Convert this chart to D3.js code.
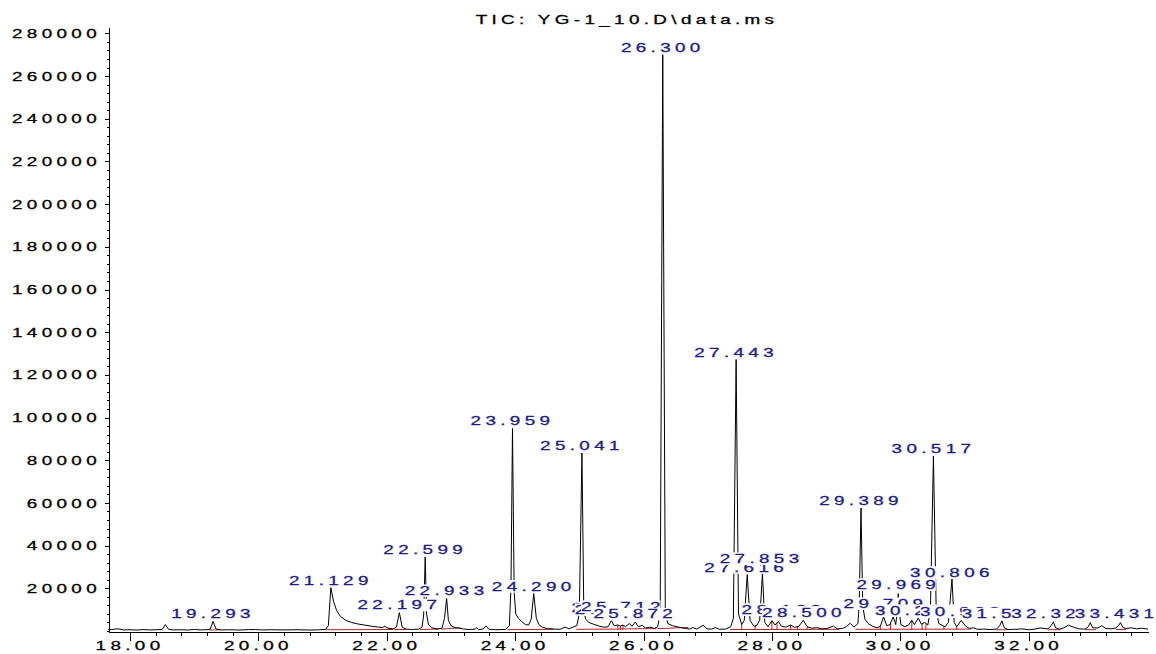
<!DOCTYPE html>
<html>
<head>
<meta charset="utf-8">
<script src="https://cdn.jsdelivr.net/npm/d3@7"></script>
<style>
  body { margin: 0; background: #fff; }
  text { font-family: "Liberation Sans", Arial, sans-serif; font-size: 13px; letter-spacing: 3px; }
</style>
</head>
<body>
<svg id="chart" width="1156" height="654"></svg>
<script>
// chromatogram trace: [retention time (min), abundance]
var trace = [
  [17.66, 700], [17.72, 600], [17.78, 1000], [17.84, 900], [17.90, 500], [18.00, 600], [18.10, 450],
  [18.20, 650], [18.30, 500], [18.42, 600], [18.50, 700], [18.55, 3000], [18.60, 800], [18.68, 500],
  [18.80, 600], [18.90, 450], [19.00, 700], [19.10, 550], [19.20, 600], [19.25, 900], [19.293, 4500],
  [19.34, 900], [19.42, 500], [19.55, 600], [19.70, 450], [19.85, 650], [19.95, 700], [20.05, 500],
  [20.20, 600], [20.40, 500], [20.60, 600], [20.80, 450], [20.95, 550], [21.05, 800], [21.09, 2500],
  [21.129, 20300], [21.17, 14000], [21.22, 9500], [21.28, 6800], [21.36, 5000], [21.45, 4000],
  [21.55, 3300], [21.65, 2800], [21.75, 2300], [21.85, 1900], [21.93, 1600], [21.97, 2200],
  [22.02, 1300], [22.10, 1000], [22.15, 1800], [22.197, 8600], [22.24, 1800], [22.30, 900],
  [22.40, 700], [22.50, 900], [22.55, 1800], [22.575, 7500], [22.599, 34700], [22.62, 8000],
  [22.65, 3000], [22.70, 1500], [22.78, 1000], [22.86, 1300], [22.90, 6000], [22.933, 15200],
  [22.96, 5000], [23.00, 2500], [23.06, 1600], [23.12, 1400], [23.20, 900], [23.30, 700],
  [23.38, 900], [23.40, 1600], [23.43, 700], [23.50, 900], [23.545, 2400], [23.59, 800],
  [23.70, 600], [23.85, 700], [23.91, 2500], [23.935, 20000], [23.959, 94900], [23.985, 18000],
  [24.01, 8000], [24.05, 6000], [24.10, 4500], [24.16, 3000], [24.21, 2800], [24.25, 5500],
  [24.290, 17500], [24.33, 6000], [24.37, 3000], [24.42, 1800], [24.50, 1100], [24.60, 900],
  [24.70, 800], [24.78, 1800], [24.84, 1000], [24.90, 1800], [24.96, 2500], [25.00, 8000],
  [25.041, 83400], [25.07, 9000], [25.10, 5500], [25.15, 4000], [25.22, 3200], [25.30, 2400],
  [25.38, 1800], [25.45, 2000], [25.50, 5000], [25.54, 2500], [25.60, 2800], [25.64, 2300],
  [25.68, 2800], [25.72, 2000], [25.78, 3500], [25.82, 2200], [25.872, 4200], [25.92, 2000],
  [25.98, 2700], [26.03, 1400], [26.10, 1800], [26.17, 1200], [26.22, 2000], [26.26, 8000],
  [26.300, 270000], [26.34, 8000], [26.38, 3500], [26.45, 2500], [26.55, 1800], [26.65, 1200],
  [26.72, 900], [26.77, 1600], [26.83, 900], [26.93, 2700], [26.99, 1000], [27.06, 900],
  [27.12, 1600], [27.18, 800], [27.28, 900], [27.36, 2000], [27.40, 6000], [27.443, 127200],
  [27.48, 8000], [27.53, 3000], [27.57, 5000], [27.616, 26400], [27.66, 5000], [27.72, 2200],
  [27.77, 2800], [27.81, 5000], [27.853, 26900], [27.89, 4000], [27.94, 2000], [28.00, 4800],
  [28.05, 2800], [28.10, 4500], [28.15, 2200], [28.22, 1800], [28.29, 2800], [28.35, 1700],
  [28.42, 2200], [28.49, 5000], [28.55, 2000], [28.62, 1300], [28.70, 1600], [28.78, 1000],
  [28.86, 1200], [28.96, 2300], [29.02, 1000], [29.10, 1200], [29.16, 2000], [29.22, 3600],
  [29.28, 1800], [29.34, 3500], [29.36, 12000], [29.389, 57600], [29.415, 12000], [29.45, 5500],
  [29.50, 3500], [29.57, 2200], [29.64, 1500], [29.69, 2200], [29.74, 6600], [29.79, 2500],
  [29.84, 3000], [29.89, 6600], [29.93, 3000], [29.955, 10000], [29.969, 17500], [29.985, 9000],
  [30.01, 3000], [30.07, 2000], [30.13, 2800], [30.18, 5000], [30.22, 3000], [30.28, 6000],
  [30.33, 3200], [30.38, 4000], [30.43, 2800], [30.47, 10000], [30.517, 82000], [30.56, 10000],
  [30.60, 3500], [30.66, 2500], [30.70, 2000], [30.75, 4000], [30.806, 24500], [30.84, 4000],
  [30.88, 2000], [30.95, 5000], [31.02, 2200], [31.08, 1200], [31.14, 1500], [31.20, 800],
  [31.30, 900], [31.40, 700], [31.50, 900], [31.55, 2500], [31.584, 4800], [31.62, 1500],
  [31.68, 700], [31.80, 800], [31.90, 1000], [32.00, 600], [32.10, 900], [32.18, 1400],
  [32.24, 1200], [32.30, 1000], [32.35, 2500], [32.385, 4300], [32.42, 1500], [32.48, 900],
  [32.55, 1500], [32.62, 2700], [32.70, 1800], [32.78, 1000], [32.88, 900], [32.93, 2000],
  [32.96, 3900], [33.00, 1500], [33.08, 1400], [33.14, 2500], [33.20, 1200], [33.28, 1000],
  [33.36, 1400], [33.40, 2500], [33.431, 3900], [33.47, 1600], [33.52, 1200], [33.60, 1500],
  [33.68, 1000], [33.76, 1300], [33.86, 900]
];

// peak labels: text, time where the label is centred, abundance it sits on
var labelText  = ['19.293', '21.129', '22.197', '22.599', '22.933', '23.959', '24.290', '25.041',
                  '25.527', '25.583', '25.712', '25.872', '26.300', '27.443', '27.616', '27.853',
                  '28.183', '28.500', '29.389', '29.709', '29.969', '30.259', '30.517', '30.806',
                  '30.968', '31.584', '32.326', '33.431'];
var labelTime  = [19.293, 21.129, 22.197, 22.599, 22.933, 23.959, 24.290, 25.041,
                  25.53, 25.58, 25.68, 25.872, 26.300, 27.443, 27.60, 27.84,
                  28.18, 28.500, 29.389, 29.77, 29.969, 30.26, 30.517, 30.806,
                  30.96, 31.61, 32.38, 33.37];
var labelLevel = [4500, 20300, 8800, 34700, 15500, 94900, 17500, 83400,
                  7500, 6600, 8000, 4500, 270000, 127200, 26400, 30500,
                  6600, 5300, 57800, 9400, 18300, 6100, 82000, 24000,
                  5600, 4500, 4500, 4500];

// integration baselines [t1, a1, t2, a2] and drop lines (times)
var baseSegs = [
  [19.22, 500, 19.40, 500], [21.05, 600, 22.10, 700], [22.12, 700, 22.30, 700],
  [22.52, 700, 22.82, 900], [22.85, 900, 23.15, 1500], [23.88, 600, 24.60, 800],
  [24.95, 800, 25.60, 900], [25.60, 900, 25.75, 1000], [25.75, 1000, 26.20, 1100],
  [26.22, 1100, 26.70, 1700], [27.35, 700, 29.05, 800], [29.30, 800, 31.10, 900],
  [31.50, 600, 31.70, 600], [32.30, 600, 32.50, 600], [32.88, 600, 33.05, 600],
  [33.36, 700, 33.52, 700]
];
var dropTimes = [25.60, 25.64, 25.68, 27.53, 27.74, 28.00, 28.08, 28.29, 28.40, 28.55,
                 29.69, 29.85, 30.18, 30.34, 30.40, 30.68, 30.88];

var yMajor = d3.range(20000, 280001, 20000);
var xMajor = [18, 20, 22, 24, 26, 28, 30, 32];
var title = 'TIC: YG-1_10.D\\data.ms';

var SX = 1.45, LS = 3;
var BLUE = '#1c1c8c', RED = '#b22222';

var svg = d3.select('#chart');
var x = d3.scaleLinear().domain([17.657, 33.86]).range([108, 1148]);
var y = d3.scaleLinear().domain([0, 283000]).range([631, 27]);

// text is drawn wide, like the original print
function wideText(parent, tx, ty, str, anchor, color) {
    var g = parent.append('g')
        .attr('transform', 'translate(' + tx + ',' + ty + ') scale(' + SX + ',1)');
    g.append('text')
        .attr('text-anchor', anchor)
        .attr('fill', color)
        .attr('stroke', color)
        .attr('stroke-width', 0.3)
        .text(str);
    return g;
}

// y axis: minor ticks every 4000, major every 20000
svg.append('g')
    .attr('transform', 'translate(108.5,0)')
    .attr('shape-rendering', 'crispEdges')
    .call(d3.axisLeft(y).tickValues(d3.range(0, 283000, 4000)).tickSize(2).tickSizeOuter(0).tickFormat(''));
svg.append('g')
    .attr('transform', 'translate(108.5,0)')
    .attr('shape-rendering', 'crispEdges')
    .call(d3.axisLeft(y).tickValues(yMajor).tickSize(4).tickSizeOuter(0).tickFormat(''));
yMajor.forEach(function (v) {
    wideText(svg, 101, y(v) + 4.6, String(v), 'end', '#000');
});

// x axis: minor ticks every 0.4 min, major every 2 min
svg.append('g')
    .attr('transform', 'translate(0,631.5)')
    .attr('shape-rendering', 'crispEdges')
    .call(d3.axisBottom(x).tickValues(d3.range(18, 33.8, 0.4)).tickSize(4).tickSizeOuter(0).tickFormat(''));
svg.append('g')
    .attr('transform', 'translate(0,631.5)')
    .attr('shape-rendering', 'crispEdges')
    .call(d3.axisBottom(x).tickValues(xMajor).tickSize(9).tickSizeOuter(0).tickFormat(''));
xMajor.forEach(function (v) {
    wideText(svg, x(v), 650, v.toFixed(2), 'middle', '#000');
});

// title
wideText(svg, 627, 24, title, 'middle', '#000');

// red integration marks
var marks = svg.append('g').attr('stroke', RED).attr('stroke-width', 1);
marks.selectAll('line.base')
    .data(baseSegs)
    .enter().append('line')
    .attr('class', 'base')
    .attr('x1', function (d) { return x(d[0]); })
    .attr('y1', function (d) { return y(d[1]); })
    .attr('x2', function (d) { return x(d[2]); })
    .attr('y2', function (d) { return y(d[3]); });

var bis = d3.bisector(function (d) { return d[0]; }).left;
function traceAt(t) {
    var i = bis(trace, t);
    var a = trace[i - 1], b = trace[i];
    return a[1] + (b[1] - a[1]) * (t - a[0]) / (b[0] - a[0]);
}
marks.selectAll('line.drop')
    .data(dropTimes)
    .enter().append('line')
    .attr('class', 'drop')
    .attr('x1', function (d) { return x(d); })
    .attr('x2', function (d) { return x(d); })
    .attr('y1', y(600))
    .attr('y2', function (d) { return y(traceAt(d)); });

// the trace
var line = d3.line()
    .x(function (d) { return x(d[0]); })
    .y(function (d) { return y(d[1]); });
svg.append('path')
    .datum(trace)
    .attr('d', line)
    .attr('fill', 'none')
    .attr('stroke', '#000')
    .attr('stroke-width', 1)
    .attr('stroke-linejoin', 'round');

// peak labels, each on a white box, later ones on top
labelText.forEach(function (txt, i) {
    var g = wideText(svg, x(labelTime[i]), y(labelLevel[i]) - 3, txt, 'middle', BLUE);
    var bb = g.select('text').node().getBBox();
    g.insert('rect', 'text')
        .attr('x', bb.x)
        .attr('y', -10.5)
        .attr('width', bb.width - LS)
        .attr('height', 12.5)
        .attr('fill', '#fff');
});
</script>
</body>
</html>
